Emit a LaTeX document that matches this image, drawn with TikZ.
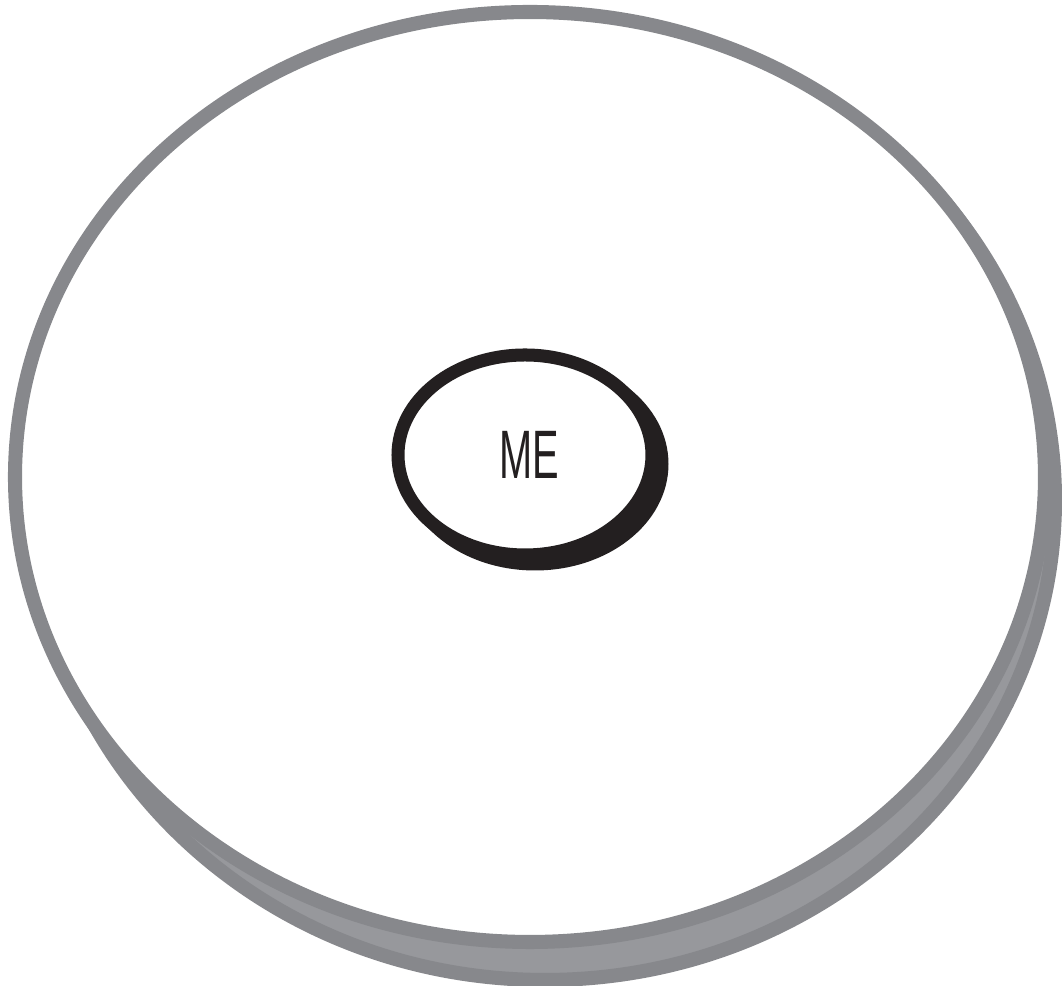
\documentclass[tikz,border=0pt]{standalone}
\usepackage{fontspec}
\setmainfont{Liberation Sans}[FakeStretch=0.58]
\definecolor{ringgray}{HTML}{87888C}
\definecolor{bandgray}{HTML}{97989C}
\definecolor{inkblack}{HTML}{231F20}
\begin{document}
\begin{tikzpicture}[x=0.01cm, y=-0.01cm]
    \useasboundingbox (0,0) rectangle (1062,986);

    % 1. Outer circle: a shifted copy underneath gives the thick lower edge
    \draw[ringgray, fill=bandgray, line width=4pt] (545,500) ellipse [x radius=510, y radius=480];
    \draw[ringgray, fill=white, line width=4pt] (530,477) ellipse [x radius=515, y radius=465];

    % 2. Inner circle round ME, same trick in black
    \draw[inkblack, fill=inkblack, line width=3.7pt] (535,464) ellipse [x radius=127, y radius=100];
    \draw[inkblack, fill=white, line width=3.7pt] (525,455) ellipse [x radius=127, y radius=100];

    \node[inkblack, font=\fontsize{19.5}{22}\selectfont] (me) at (529,455) {ME};

\end{tikzpicture}
\end{document}
